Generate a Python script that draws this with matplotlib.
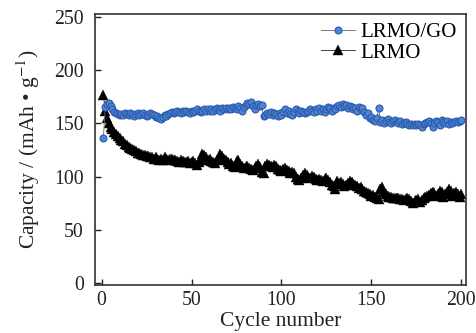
import numpy as np
import matplotlib.pyplot as plt

plt.rcParams['font.family'] = ['Liberation Serif', 'DejaVu Serif']
plt.rcParams['mathtext.fontset'] = 'stix'

cycles = np.arange(1, 201)

# LRMO/GO discharge capacity (mAh/g)
cap_go = [136, 165, 168, 169, 166, 163, 161, 160, 159, 158,
          159, 158, 160, 159, 158, 160, 159, 157, 159, 160,
          158, 159, 160, 158, 157, 158, 160, 159, 158, 156,
          157, 155, 154, 156, 158, 157, 159, 160, 161, 160,
          161, 162, 161, 160, 162, 161, 162, 161, 160, 162,
          161, 162, 163, 162, 161, 162, 163, 162, 163, 162,
          163, 162, 163, 164, 163, 162, 164, 163, 164, 163,
          164, 163, 165, 164, 163, 166, 164, 162, 165, 167,
          169, 168, 170, 166, 163, 167, 168, 166, 167, 157,
          158, 160, 159, 161, 158, 160, 159, 157, 160, 158,
          161, 163, 160, 162, 159, 158, 161, 163, 162, 160,
          162, 161, 160, 161, 162, 163, 162, 161, 163, 162,
          164, 162, 163, 161, 163, 165, 164, 162, 164, 163,
          166, 167, 165, 168, 166, 167, 164, 166, 165, 163,
          164, 162, 165, 163, 164, 161, 158, 160, 155, 156,
          153, 152, 155, 164, 151, 153, 150, 152, 154, 151,
          150, 152, 153, 151, 150, 152, 149, 150, 151, 149,
          148, 149, 148, 149, 148, 149, 148, 147, 149, 150,
          151, 152, 150, 147, 150, 152, 151, 148, 153, 151,
          150, 152, 149, 151, 150, 151, 152, 151, 152, 153]

# LRMO discharge capacity (mAh/g)
cap_lrmo = [177, 162, 155, 150, 147, 145, 142, 140, 138, 136,
            134, 133, 131, 130, 128, 127, 126, 125, 124, 122,
            122, 121, 120, 120, 119, 119, 118, 118, 117, 118,
            117, 116, 117, 116, 118, 117, 116, 117, 117, 116,
            116, 115, 114, 116, 115, 114, 114, 115, 113, 114,
            115, 113, 111, 114, 116, 121, 120, 118, 116, 117,
            115, 114, 113, 116, 117, 121, 119, 117, 116, 114,
            112, 113, 110, 109, 115, 116, 112, 110, 108, 109,
            110, 108, 107, 106, 108, 110, 112, 109, 104, 103,
            110, 112, 111, 110, 109, 111, 110, 107, 106, 105,
            107, 108, 106, 105, 103, 104, 103, 100, 98, 97,
            99, 102, 103, 102, 100, 99, 101, 100, 98, 97,
            98, 97, 96, 98, 99, 97, 95, 92, 91, 88,
            96, 94, 95, 93, 91, 92, 94, 96, 95, 93,
            92, 91, 89, 90, 88, 87, 86, 85, 84, 82,
            83, 81, 80, 79, 88, 90, 86, 84, 82, 81,
            81, 80, 80, 80, 80, 79, 79, 78, 79, 80,
            79, 77, 75, 77, 78, 79, 76, 78, 80, 81,
            82, 83, 85, 86, 85, 82, 84, 87, 86, 81,
            84, 86, 88, 87, 82, 85, 86, 84, 81, 84]

fig = plt.figure(figsize=(4.77, 3.33), dpi=100)
ax = fig.add_axes([0.199, 0.144, 0.777, 0.814])

ax.plot(cycles, cap_go, '-o', color='#666666', lw=0.6, ms=5.0,
        mfc='#5283d4', mec='#2a5cae', mew=0.8, label='LRMO/GO', zorder=3)
ax.plot(cycles, cap_lrmo, '-^', color='#222222', lw=0.6, ms=6.5,
        mfc='black', mec='black', mew=0.3, label='LRMO', zorder=2)

ax.set_xlim(-3.7, 202.3)
ax.set_ylim(-1.6, 252.5)
ax.set_xticks([0, 50, 100, 150, 200])
ax.set_yticks([0, 50, 100, 150, 200, 250])
ax.tick_params(direction='in', length=4, width=1, labelsize=14.2,
               colors='#222222', top=False, right=False)
ax.tick_params(axis='y', pad=8)
ax.tick_params(axis='x', pad=4)
for s in ax.spines.values():
    s.set_linewidth(1.2)
    s.set_color('#333333')

ax.set_xlabel('Cycle number', fontsize=15.5, color='#222222', labelpad=1.5)
ax.set_ylabel(r'Capacity / (mAh • g$^{-1}$)', fontsize=15.5,
              color='#222222', labelpad=9)

ax.legend(loc='upper right', frameon=False, fontsize=15, handlelength=1.6,
          handletextpad=0.3, borderaxespad=0.2, labelspacing=0.05,
          borderpad=0.2)

fig.savefig('out.png', dpi=100)
